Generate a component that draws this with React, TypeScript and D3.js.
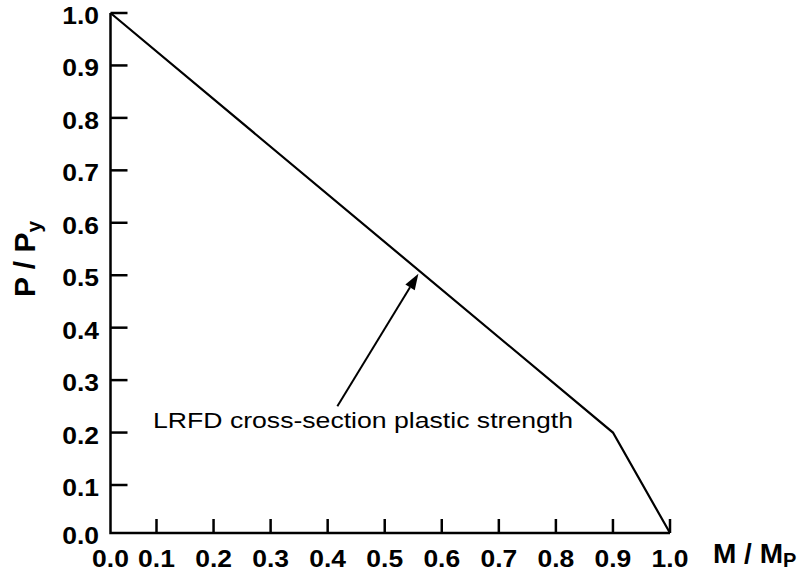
import React from 'react';
import { scaleLinear, line } from 'd3';

// interaction curve, M/Mp vs P/Py
const curveM = [0.0, 0.9, 1.0];
const curveP = [1.0, 0.2, 0.0];

const xTicks = [0.0, 0.1, 0.2, 0.3, 0.4, 0.5, 0.6, 0.7, 0.8, 0.9, 1.0];
const yTicks = [0.0, 0.1, 0.2, 0.3, 0.4, 0.5, 0.6, 0.7, 0.8, 0.9, 1.0];

// arrow: from label to the curve
const arrowFrom = [0.417, 0.25];
const arrowTo = [0.559, 0.503];
const labelText = 'LRFD cross-section plastic strength';

const W = 808;
const H = 573;
const FONT = "'Liberation Sans', Arial, Helvetica, sans-serif";

const App = () => {
  // the scanned figure has a slightly wider first interval
  const xScale = scaleLinear().domain([0, 0.1, 1]).range([110.5, 156.5, 670]);
  const yScale = scaleLinear().domain([0, 0.1, 1]).range([533, 485, 13]);

  const pts = curveM.map((m, i) => [m, curveP[i]]);
  const path = line<number[]>()
    .x(d => xScale(d[0]))
    .y(d => yScale(d[1]))(pts);

  // arrow head
  const x1 = xScale(arrowFrom[0]);
  const y1 = yScale(arrowFrom[1]);
  const x2 = xScale(arrowTo[0]);
  const y2 = yScale(arrowTo[1]);
  const ang = Math.atan2(y2 - y1, x2 - x1);
  const headL = 16;
  const headW = 5.5;
  const bx = x2 - headL * Math.cos(ang);
  const by = y2 - headL * Math.sin(ang);
  const head = [
    [x2, y2],
    [bx + headW * Math.sin(ang), by - headW * Math.cos(ang)],
    [bx - headW * Math.sin(ang), by + headW * Math.cos(ang)],
  ];

  const x0 = xScale(0);
  const yb = yScale(0);

  return (
    <svg width={W} height={H} style={{ position: 'absolute', left: 0, top: 0, background: '#fff' }}>
      <rect width={W} height={H} fill="#fff" />
      {/* axes */}
      <path
        d={`M${x0},${yScale(1)}V${yb}H${xScale(1)}`}
        fill="none"
        stroke="#000"
        strokeWidth={2.5}
      />
      {yTicks.map(t => (
        <g key={'y' + t}>
          {t > 0 && (
            <line x1={x0} x2={x0 + 17} y1={yScale(t)} y2={yScale(t)} stroke="#000" strokeWidth={2.5} />
          )}
          <text
            transform={`translate(99,${yScale(t) + 11}) scale(1.15,1)`}
            textAnchor="end"
            fontFamily={FONT}
            fontWeight="bold"
            fontSize={23}
          >
            {t.toFixed(1)}
          </text>
        </g>
      ))}
      {xTicks.map(t => (
        <g key={'x' + t}>
          {t > 0 && (
            <line x1={xScale(t)} x2={xScale(t)} y1={yb} y2={yb - 14} stroke="#000" strokeWidth={2.5} />
          )}
          <text
            transform={`translate(${xScale(t)},567) scale(1.15,1)`}
            textAnchor="middle"
            fontFamily={FONT}
            fontWeight="bold"
            fontSize={23}
          >
            {t.toFixed(1)}
          </text>
        </g>
      ))}

      {/* curve */}
      <path d={path || ''} fill="none" stroke="#000" strokeWidth={2.2} />

      {/* annotation */}
      <line x1={x1} y1={y1} x2={bx} y2={by} stroke="#000" strokeWidth={2} />
      <polygon points={head.map(p => p.join(',')).join(' ')} fill="#000" />
      <text
        x={153}
        y={428}
        fontFamily={FONT}
        fontSize={22}
        textLength={420}
        lengthAdjust="spacingAndGlyphs"
      >
        {labelText}
      </text>

      {/* axis titles */}
      <text x={713} y={563} fontFamily={FONT} fontWeight="bold" fontSize={28}>
        M / M
        <tspan fontSize={20} dy={4}>P</tspan>
      </text>
      <text
        transform="translate(35,297) rotate(-90)"
        fontFamily={FONT}
        fontWeight="bold"
        fontSize={30}
      >
        P / P
        <tspan fontSize={21} dy={6}>y</tspan>
      </text>
    </svg>
  );
};

export default App;
